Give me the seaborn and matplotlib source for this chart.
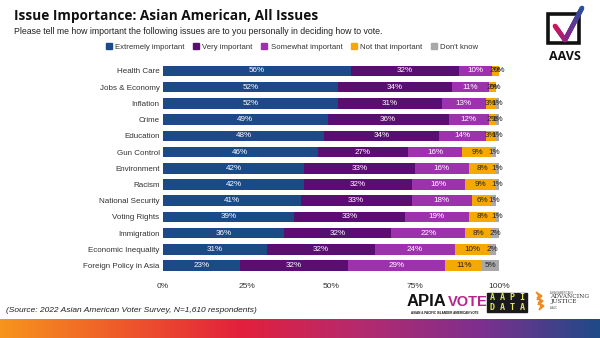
import numpy as np
import pandas as pd
import matplotlib
matplotlib.use("Agg")
import matplotlib.pyplot as plt
from matplotlib.patches import Rectangle, Polygon
from matplotlib.colors import LinearSegmentedColormap
import seaborn as sns

# Survey results (percent of respondents)
issues = ["Health Care", "Jobs & Economy", "Inflation", "Crime", "Education",
          "Gun Control", "Environment", "Racism", "National Security",
          "Voting Rights", "Immigration", "Economic Inequality",
          "Foreign Policy in Asia"]
extremely = [56, 52, 52, 49, 48, 46, 42, 42, 41, 39, 36, 31, 23]
very = [32, 34, 31, 36, 34, 27, 33, 32, 33, 33, 32, 32, 32]
somewhat = [10, 11, 13, 12, 14, 16, 16, 16, 18, 19, 22, 24, 29]
not_that = [2, 2, 3, 2, 3, 9, 8, 9, 6, 8, 8, 10, 11]
dont_know = [0, 0, 1, 1, 1, 1, 1, 1, 1, 1, 2, 2, 5]

levels = ["Extremely important", "Very important", "Somewhat important",
          "Not that important", "Don't know"]
colors = ["#1B4A86", "#5B0E72", "#9E32AE", "#F5A900", "#A8A8A8"]
label_colors = ["white", "white", "white", "#222222", "#222222"]
xticks = [0, 25, 50, 75, 100]

sns.set_theme(style="white")
plt.rcParams["font.family"] = ["Liberation Sans", "DejaVu Sans"]

df = pd.DataFrame({"issue": issues, levels[0]: extremely, levels[1]: very,
                   levels[2]: somewhat, levels[3]: not_that, levels[4]: dont_know})
cum = df[levels].cumsum(axis=1).assign(issue=df["issue"])

W, H = 600, 338
fig = plt.figure(figsize=(W / 100, H / 100), dpi=100)
ax = fig.add_axes([163 / W, 1 - 273.8 / H, 336 / W, 211 / H])

# stacked bars: draw cumulative totals from the widest down
for lvl, col in reversed(list(zip(levels, colors))):
    sns.barplot(data=cum, x=lvl, y="issue", orient="h", color=col,
                saturation=1, width=0.65, ax=ax, order=issues, linewidth=0)

# value labels centered in each segment
for i, issue in enumerate(issues):
    left = 0
    for lvl, lc in zip(levels, label_colors):
        v = df.loc[i, lvl]
        ax.text(left + v / 2, i, f"{v}%", ha="center", va="center",
                fontsize=5.8, color=lc)
        left += v

ax.set_xlim(0, 100)
ax.set_xticks(xticks)
ax.set_xticklabels([f"{t}%" for t in xticks], fontsize=6, color="#333333")
ax.tick_params(axis="x", length=0, pad=6.5)
ax.tick_params(axis="y", length=0, pad=2.5, labelsize=5.8, labelcolor="#333333")
ax.set_xlabel("")
ax.set_ylabel("")
for s in ax.spines.values():
    s.set_visible(False)

# title block
fig.text(14 / W, 1 - 16 / H, "Issue Importance: Asian American, All Issues",
         fontsize=9.8, fontweight="bold", color="#111111", va="center",
         family=["Open Sans", "DejaVu Sans"])
fig.text(14 / W, 1 - 31 / H,
         "Please tell me how important the following issues are to you personally in deciding how to vote.",
         fontsize=6.3, color="#222222", va="center")

# legend
handles = [Rectangle((0, 0), 1, 1, color=c) for c in colors]
fig.legend(handles, levels, loc="center", bbox_to_anchor=(292 / W, 1 - 47 / H),
           ncol=5, frameon=False, fontsize=5.6, handlelength=0.8, handleheight=0.8,
           handletextpad=0.4, columnspacing=1.1, labelcolor="#333333")

# source note
fig.text(6 / W, 1 - 310 / H,
         "(Source: 2022 Asian American Voter Survey, N=1,610 respondents)",
         fontsize=6.0, style="italic", color="#222222", va="center")

# gradient strip along the bottom
strip = fig.add_axes([0, 0, 1, 19 / H])
grad = LinearSegmentedColormap.from_list(
    "strip", ["#F7941D", "#EE5A2A", "#E3203C", "#B52A6E", "#7E2F8E", "#1F4A87"])
strip.imshow(np.linspace(0, 1, 256)[None, :], aspect="auto", cmap=grad,
             extent=[0, 1, 0, 1])
strip.set_axis_off()

# decoration layer in pixel coordinates
deco = fig.add_axes([0, 0, 1, 1], zorder=5)
deco.set_xlim(0, W)
deco.set_ylim(H, 0)
deco.set_axis_off()
deco.patch.set_alpha(0)

# AAVS mark
deco.add_patch(Rectangle((548, 14), 31, 29, fill=False, lw=2.6, ec="#111111"))
check = LinearSegmentedColormap.from_list("chk", ["#D4145A", "#7B2A8F", "#2E4E9C"])
pts = np.array([[555, 26], [565, 40], [582, 8]])
seg_x = np.concatenate([np.linspace(pts[0, 0], pts[1, 0], 20), np.linspace(pts[1, 0], pts[2, 0], 40)])
seg_y = np.concatenate([np.linspace(pts[0, 1], pts[1, 1], 20), np.linspace(pts[1, 1], pts[2, 1], 40)])
for k in range(len(seg_x) - 1):
    deco.plot(seg_x[k:k + 2], seg_y[k:k + 2], color=check(k / (len(seg_x) - 2)),
              lw=3.4, solid_capstyle="round")
deco.text(565, 57, "AAVS", ha="center", va="center", fontsize=9,
          fontweight="bold", color="#111111", family=["Open Sans", "DejaVu Sans"])

# partner marks
deco.text(407, 302, "APIA", fontsize=12, fontweight="bold", color="#111111",
          va="center", ha="left")
deco.text(448, 302, "VOTE", fontsize=10.5, fontweight="bold", color="#B5268A",
          va="center", ha="left")
deco.text(445, 313, "ASIAN & PACIFIC ISLANDER AMERICAN VOTE", fontsize=2.2,
          fontweight="bold", color="#111111", va="center", ha="center")
deco.add_patch(Rectangle((487, 293), 40, 19, color="#1A1A1A"))
deco.text(507, 297.5, "A A P I", ha="center", va="center", fontsize=6,
          color="#E4EC4A", family="DejaVu Sans Mono", fontweight="bold")
deco.text(507, 307, "D A T A", ha="center", va="center", fontsize=6,
          color="#E4EC4A", family="DejaVu Sans Mono", fontweight="bold")
for dx, dy in [(0, 0), (3, 5), (6, 10)]:
    deco.add_patch(Polygon([[536 + dx / 3, 292 + dy], [542 + dx / 3, 296 + dy],
                            [537 + dx / 3, 300 + dy], [539 + dx / 3, 296 + dy]],
                           closed=True, color="#F08A24"))
deco.text(550, 292.5, "ASIAN AMERICANS", fontsize=1.8, color="#555555", va="center")
deco.text(550, 297, "ADVANCING", fontsize=4.2, color="#333333", va="center",
          family="DejaVu Serif")
deco.text(550, 302, "JUSTICE", fontsize=4.2, color="#333333", va="center",
          family="DejaVu Serif")
deco.text(550, 308, "AAJC", fontsize=2, color="#555555", va="center")

fig.savefig("out.png", dpi=100)
